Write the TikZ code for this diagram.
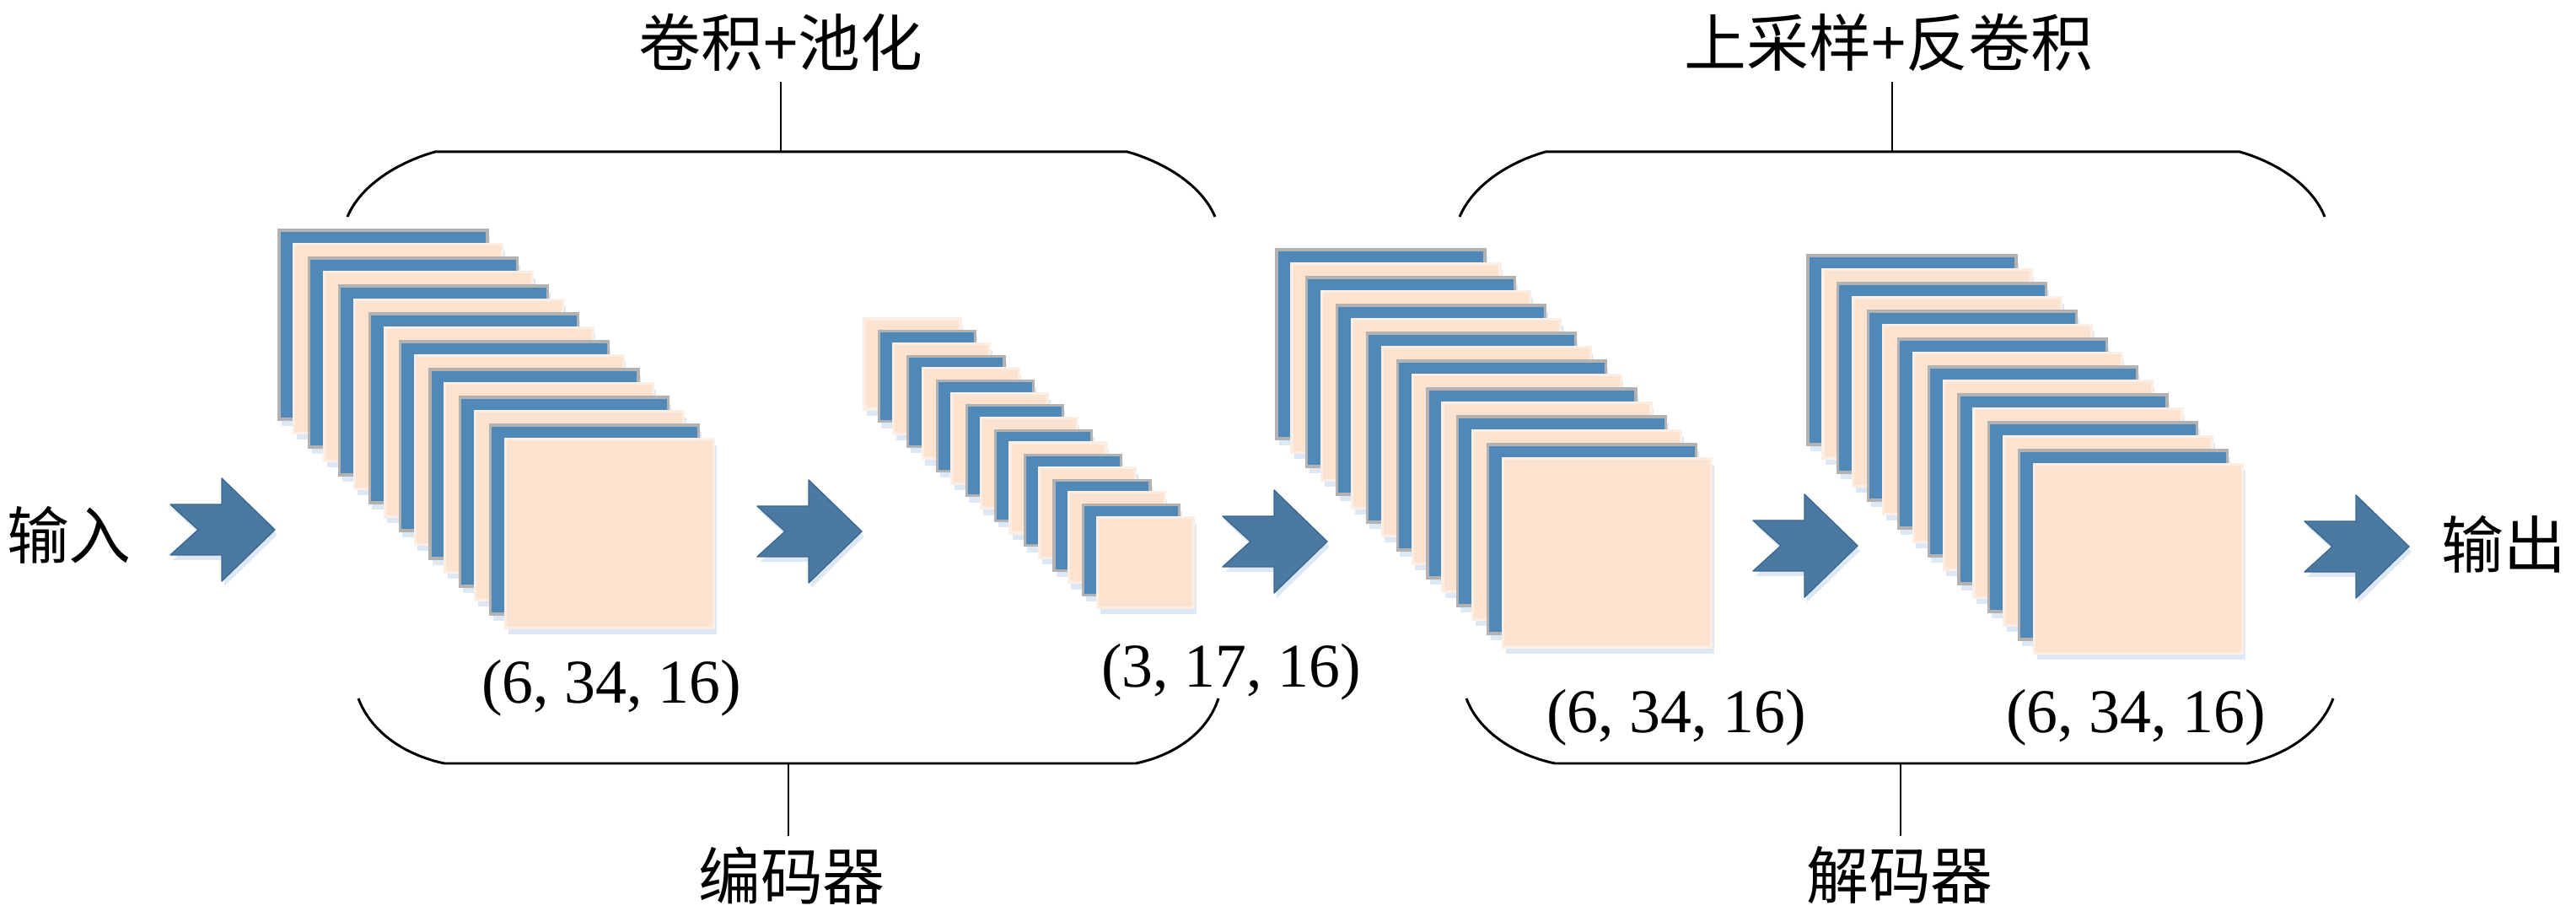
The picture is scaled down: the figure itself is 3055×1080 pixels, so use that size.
\documentclass[tikz,border=0pt]{standalone}
\usepackage{fontspec}
\setmainfont{Liberation Serif}
\newfontfamily\cjk{Noto Sans CJK SC}
\usepackage{tikz}

\definecolor{fmblue}{RGB}{80,136,184}
\definecolor{fmedge}{RGB}{178,178,178}
\definecolor{fmpeach}{RGB}{252,227,208}
\definecolor{fmpeachedge}{RGB}{251,238,229}
\definecolor{arrowblue}{RGB}{74,121,162}
\definecolor{arrowedge}{RGB}{62,104,143}
\definecolor{glow}{RGB}{221,232,244}

\tikzset{
    bluecard/.style={fill=fmblue, draw=fmedge, line width=0.9pt},
    peachcard/.style={fill=fmpeach, draw=fmpeachedge, line width=0.9pt},
    lbl/.style={font=\fontsize{21}{25}\selectfont, inner sep=0.12cm},
    cn/.style={font=\cjk\fontsize{21}{25}\selectfont, inner sep=0.12cm},
    brace/.style={line width=0.85pt},
    stem/.style={line width=0.6pt},
    chevron/.pic={
        \fill[glow] (3,-24) -- (64,-24) -- (64,-55) -- (127,6) -- (64,67) -- (64,36) -- (3,36) -- (36,6) -- cycle;
        \filldraw[fill=arrowblue, draw=arrowedge, line width=0.4pt, line join=round] (0,-30) -- (61,-30) -- (61,-61) -- (124,0) -- (61,61) -- (61,30) -- (0,30) -- (33,0) -- cycle;
    }
}

\newcommand\fmstack[8]{%
    \foreach \i in {0,...,#7}{
        \fill[glow] ({#1+\i*#5+3},{#2+\i*#6+8}) rectangle +(#3,#4);
    }
    \foreach \i in {0,...,#7}{
        \pgfmathtruncatemacro\cardkind{mod(\i+#8,2)}
        \ifnum\cardkind=0
            \draw[bluecard] ({#1+\i*#5},{#2+\i*#6}) rectangle +(#3,#4);
        \else
            \draw[peachcard] ({#1+\i*#5},{#2+\i*#6}) rectangle +(#3,#4);
        \fi
    }
}

\begin{document}
\begin{tikzpicture}[x=0.01cm, y=-0.01cm]
                \useasboundingbox (0,0) rectangle (3055,1080);

                \fmstack{331}{273}{247}{224}{17.9}{16.5}{15}{0}
                \fmstack{1025}{378}{114}{107}{17.3}{14.7}{16}{1}
                \fmstack{1514}{296}{247}{224}{17.9}{16.5}{15}{0}
                \fmstack{2144}{303}{247}{224}{17.9}{16.5}{15}{0}

                \pic at (202,628) {chevron};
                \pic at (898,630) {chevron};
                \pic at (1450,642) {chevron};
                \pic at (2079,647) {chevron};
                \pic at (2733,648) {chevron};

                \node[cn] (In) at (82,634) {输入};
                \node[cn] (Out) at (2969,645) {输出};
                \node[cn] (Conv) at (926,50) {卷积+池化};
                \node[cn] (Up) at (2240,50) {上采样+反卷积};
                \node[cn] (Enc) at (939,1038) {编码器};
                \node[cn] (Dec) at (2253,1038) {解码器};

                \node[lbl] (DimA) at (725,816) {(6, 34, 16)};
                \node[lbl] (DimB) at (1460,797) {(3, 17, 16)};
                \node[lbl] (DimC) at (1988,851) {(6, 34, 16)};
                \node[lbl] (DimD) at (2533,851) {(6, 34, 16)};

                \coordinate (EncTop) at (926,180);
                \coordinate (EncBot) at (935,905);
                \coordinate (DecTop) at (2244,180);
                \coordinate (DecBot) at (2254,905);

                \draw[brace] (412,257) .. controls (430,215) and (480,190) .. (516,180) -- (1337,180) .. controls (1373,190) and (1423,215) .. (1441,257);
                \draw[brace] (425,828) .. controls (440,868) and (480,895) .. (527,905) -- (1347,905) .. controls (1394,895) and (1432,868) .. (1445,828);
                \draw[brace] (1731,257) .. controls (1749,215) and (1797,190) .. (1833,180) -- (2656,180) .. controls (2692,190) and (2740,215) .. (2757,257);
                \draw[brace] (1739,828) .. controls (1754,868) and (1797,895) .. (1844,905) -- (2665,905) .. controls (2712,895) and (2752,868) .. (2767,828);

                \draw[stem] (EncTop) -- (EncTop |- Conv.south);
                \draw[stem] (EncBot) -- (EncBot |- Enc.north);
                \draw[stem] (DecTop) -- (DecTop |- Up.south);
                \draw[stem] (DecBot) -- (DecBot |- Dec.north);
\end{tikzpicture}
\end{document}
